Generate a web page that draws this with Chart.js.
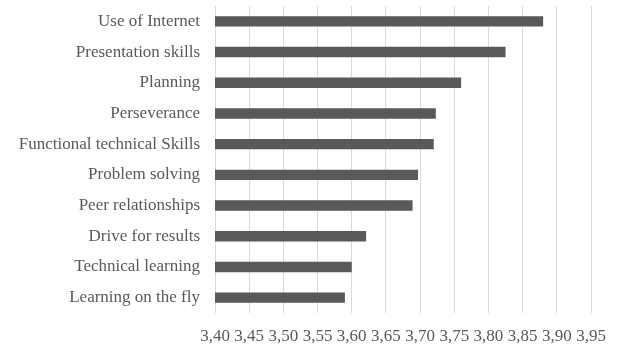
<!DOCTYPE html>
<html>
<head>
<meta charset="utf-8">
<script src="https://cdn.jsdelivr.net/npm/chart.js@4/dist/chart.umd.min.js"></script>
<style>
  html, body { margin: 0; padding: 0; background: #fff; }
  canvas { display: block; }
</style>
</head>
<body>
<canvas id="chart" width="619" height="346"></canvas>
<script>
// Skills, top to bottom as they appear in the chart
const skills = [
    'Use of Internet',
    'Presentation skills',
    'Planning',
    'Perseverance',
    'Functional technical Skills',
    'Problem solving',
    'Peer relationships',
    'Drive for results',
    'Technical learning',
    'Learning on the fly'
];
const meanScores = [3.88, 3.825, 3.76, 3.723, 3.72, 3.697, 3.689, 3.621, 3.60, 3.59];
const xTickLabels = ['3,40', '3,45', '3,50', '3,55', '3,60', '3,65', '3,70', '3,75', '3,80', '3,85', '3,90', '3,95'];

const textColor = '#595959';
const gridColor = '#d9d9d9';
const labelFont = { family: 'Liberation Serif', size: 17 };

const ctx = document.getElementById('chart').getContext('2d');
const myChart = new Chart(ctx, {
    type: 'bar',
    data: {
        labels: skills,
        datasets: [{
            data: meanScores,
            backgroundColor: '#595959',
            borderWidth: 0,
            categoryPercentage: 1,
            barPercentage: 0.34
        }]
    },
    options: {
        indexAxis: 'y',
        responsive: false,
        animation: false,
        layout: { padding: { top: 6, right: 28, left: 0, bottom: 0 } },
        plugins: {
            legend: { display: false },
            tooltip: { enabled: false }
        },
        scales: {
            x: {
                min: 3.40,
                max: 3.95,
                ticks: {
                    stepSize: 0.05,
                    padding: 13,
                    color: textColor,
                    font: labelFont,
                    maxRotation: 0,
                    autoSkip: false,
                    callback: (value, index) => xTickLabels[index]
                },
                grid: { color: gridColor, lineWidth: 1, drawTicks: false },
                border: { display: false },
                afterFit: scale => { scale.height = 33; }
            },
            y: {
                ticks: {
                    padding: 15,
                    color: textColor,
                    font: labelFont,
                    autoSkip: false
                },
                grid: { display: false, drawTicks: false },
                border: { display: false },
                afterFit: scale => {
                    scale.width = 215;
                    // labels sit inside their rows, no extra room needed above/below
                    scale.paddingTop = 0;
                    scale.paddingBottom = 0;
                }
            }
        }
    }
});
</script>
</body>
</html>
